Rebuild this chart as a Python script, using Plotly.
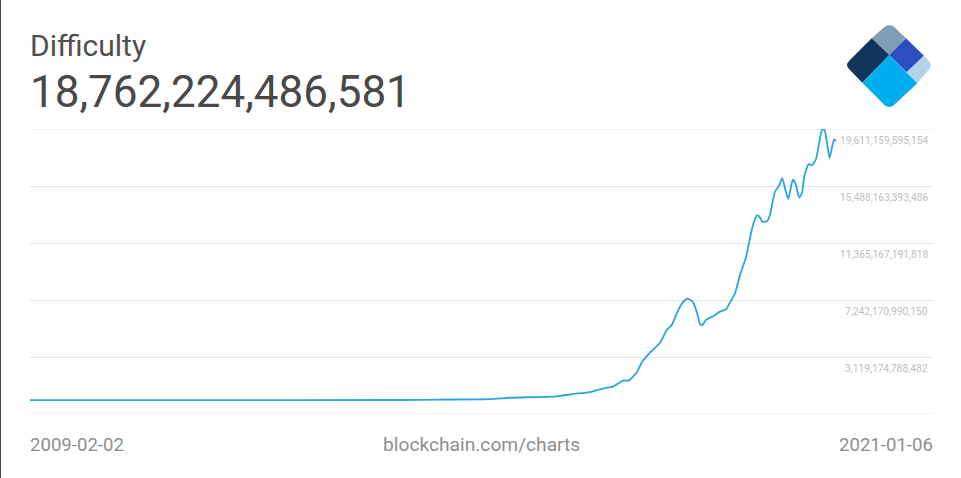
import pandas as pd
import plotly.graph_objects as go

START = pd.Timestamp("2009-02-02")
END_LABEL = "2021-01-06"
TITLE = "Difficulty"
CURRENT_VALUE = 18762224486581
SOURCE = "blockchain.com/charts"

days_since_start = [0, 919, 1999, 2216, 2486, 2594, 2846, 2934, 3026, 3117, 3150, 3205, 3237, 3279, 3306,
                    3350, 3405, 3441, 3468, 3495, 3522, 3552, 3581, 3603, 3621, 3633, 3653, 3693, 3729,
                    3761, 3783, 3810, 3837, 3869, 3887, 3905, 3927, 3941, 3959, 3984, 3999, 4026, 4049,
                    4065, 4082, 4098, 4122, 4139, 4156, 4172, 4184, 4208, 4224, 4248, 4266, 4279, 4292,
                    4307, 4321, 4337, 4347, 4356]
difficulty_t = [0.0, 0.0, 0.01, 0.04, 0.065, 0.17, 0.275, 0.44, 0.58, 0.90, 0.97, 1.41, 1.43, 2.01, 2.72,
                3.43, 4.15, 5.07, 5.43, 6.28, 6.96, 7.34, 7.12, 6.40, 5.49, 5.43, 5.80, 6.09, 6.40,
                6.57, 7.06, 7.73, 9.06, 10.31, 11.47, 12.56, 13.35, 13.28, 12.90, 12.95, 13.41, 15.09, 15.53,
                16.06, 15.22, 14.56, 15.94, 15.58, 14.66, 14.98, 16.18, 17.08, 16.98, 17.44, 18.72, 19.51, 19.61,
                18.60, 17.51, 18.48, 18.86, 18.76]
y_ticks = [3119174788482, 7242170990150, 11365167191818, 15488163393486, 19611159595154]
y_floor = -1003821413186

W, H = 961, 478
L, R, T, B = 30, 933, 129, 414


def px(x):
    return (x - L) / (R - L)


def py(y):
    return (B - y) / (B - T)


dates = [START + pd.Timedelta(days=d) for d in days_since_start]
values = [v * 1e12 for v in difficulty_t]
x_right = START + pd.Timedelta(days=(R - L) * 5.404)

fig = go.Figure(go.Scatter(
    x=dates, y=values, mode="lines",
    line=dict(color="#29A6D9", width=1.8, shape="spline", smoothing=0.5),
    cliponaxis=False, showlegend=False, hoverinfo="skip",
))

annotations = []
for v in y_ticks:
    annotations.append(dict(xref="paper", yref="y", x=px(928), y=v, yshift=-11.5, text=f"{v:,}",
                            showarrow=False, xanchor="right", yanchor="middle", xshift=2,
                            font=dict(family="Roboto", size=10.2, color="#BDBDC2")))
annotations.append(dict(xref="paper", yref="paper", x=px(30), y=py(92), text=f"{CURRENT_VALUE:,}",
                        showarrow=False, xanchor="left", yanchor="middle", xshift=-2,
                        font=dict(family="Roboto", size=44, color="#484848")))
annotations.append(dict(xref="paper", yref="paper", x=px(30), y=py(445), text=START.strftime("%Y-%m-%d"),
                        showarrow=False, xanchor="left", yanchor="middle", xshift=-2,
                        font=dict(family="Roboto", size=18.6, color="#8E8E8E")))
annotations.append(dict(xref="paper", yref="paper", x=px(481), y=py(445), text=SOURCE,
                        showarrow=False, xanchor="center", yanchor="middle",
                        font=dict(family="Roboto", size=19.2, color="#8E8E8E")))
annotations.append(dict(xref="paper", yref="paper", x=px(933), y=py(445), text=END_LABEL,
                        showarrow=False, xanchor="right", yanchor="middle", xshift=2,
                        font=dict(family="Roboto", size=18.6, color="#8E8E8E")))


def piece(cmds, color):
    out = []
    for c in cmds:
        op, pts = c[0], c[1:]
        out.append(op + " ".join(f"{px(a):.5f},{py(b):.5f}" for a, b in pts))
    return dict(type="path", xref="paper", yref="paper", layer="above", line=dict(width=0),
                fillcolor=color, path=" ".join(out) + " Z")


shapes = [
    # blue diamond logo
    piece([("M", (871.7, 38.3)), ("L", (885, 26.5)), ("Q", (889.3, 24), (893.6, 26.5)), ("L", (906, 38.3)),
           ("L", (889.3, 55))], "#7F9FB3"),
    piece([("M", (871.7, 38.3)), ("L", (889.3, 55)), ("L", (862.3, 82.7)), ("L", (849.5, 69.5)),
           ("Q", (844.5, 65), (849.5, 60.5))], "#12355B"),
    piece([("M", (906, 38.3)), ("L", (924, 55.7)), ("L", (906.7, 72.3)), ("L", (889.3, 55))], "#2E4FC4"),
    piece([("M", (924, 55.7)), ("L", (928.5, 60.5)), ("Q", (933, 65), (928.5, 70)), ("L", (917.3, 83.3)),
           ("L", (906.7, 72.3))], "#B1D4E8"),
    piece([("M", (889.3, 55)), ("L", (917.3, 83.3)), ("L", (894, 105)), ("Q", (889.3, 109), (884.5, 105)),
           ("L", (862.3, 82.7))], "#00AEEF"),
    # dark page edge seen at the left of the reference
    dict(type="line", xref="paper", yref="paper", x0=px(0.5), x1=px(0.5), y0=py(0), y1=py(478),
         line=dict(color="#4A4A4A", width=1)),
    # outermost rules sit on the plot edges, where Plotly drops its own gridlines
    dict(type="line", xref="paper", yref="y", x0=0, x1=1, y0=y_ticks[-1], y1=y_ticks[-1], layer="below",
         line=dict(color="#E2E2E2", width=1)),
    dict(type="line", xref="paper", yref="y", x0=0, x1=1, y0=y_floor, y1=y_floor, layer="below",
         line=dict(color="#E2E2E2", width=1)),
]

fig.update_layout(
    width=W, height=H,
    margin=dict(l=L, r=W - R, t=T, b=H - B, pad=0),
    paper_bgcolor="white", plot_bgcolor="white",
    title=dict(text=TITLE, x=30 / W, xanchor="left", y=1 - 45 / H, yanchor="middle",
               font=dict(family="Roboto", size=30, color="#4F4F4F")),
    xaxis=dict(range=[START, x_right], showgrid=False, zeroline=False, showticklabels=False, ticks="", showline=False),
    yaxis=dict(range=[y_floor, y_ticks[-1]], tickvals=[y_floor] + y_ticks, showticklabels=False, ticks="",
               showgrid=True, gridcolor="#E2E2E2", gridwidth=1, zeroline=False, showline=False),
    annotations=annotations, shapes=shapes,
)
fig.write_html("out.html", config={"displayModeBar": False}, post_script="document.body.style.margin='0';")
